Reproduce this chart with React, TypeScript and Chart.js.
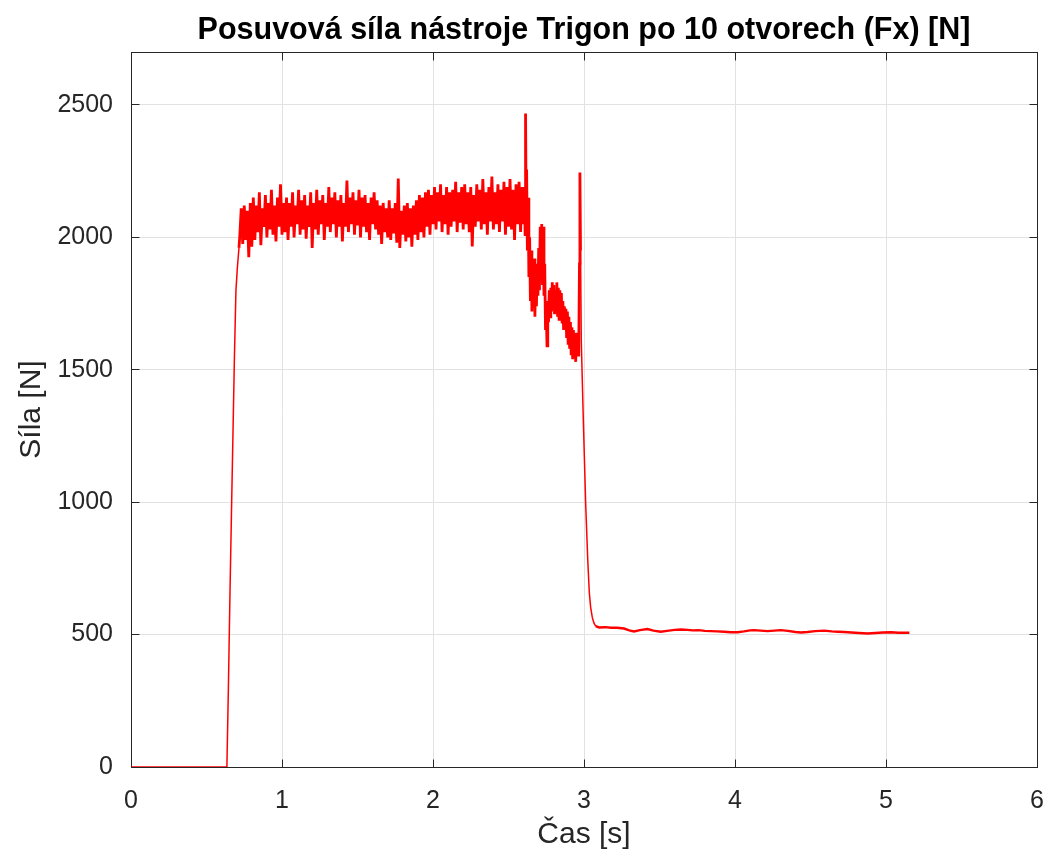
import React, { useEffect, useRef } from "react";
import { Chart, registerables } from "chart.js";

Chart.register(...registerables);

const titleText = "Posuvová síla nástroje Trigon po 10 otvorech (Fx) [N]";
const xAxisLabel = "Čas [s]";
const yAxisLabel = "Síla [N]";
const xTickValues = [0, 1, 2, 3, 4, 5, 6];
const yTickValues = [0, 500, 1000, 1500, 2000, 2500];
const xMin = 0;
const xMax = 6;
const yMin = 0;
const yMax = 2700;

// idle + rise
const riseTime = [0, 0.2, 0.4, 0.635, 0.645, 0.655, 0.665, 0.675, 0.685, 0.695, 0.705, 0.715];
const riseForce = [0, 0, 0, 0, 300, 640, 950, 1250, 1550, 1800, 1890, 1960];

// noisy cutting plateau
const plateauTime = [
  0.72, 0.73, 0.74, 0.75, 0.76, 0.77, 0.78, 0.79, 0.8, 0.81,
  0.82, 0.83, 0.84, 0.85, 0.86, 0.87, 0.88, 0.89, 0.9, 0.91,
  0.92, 0.93, 0.94, 0.95, 0.96, 0.97, 0.98, 0.99, 1.0, 1.01,
  1.02, 1.03, 1.04, 1.05, 1.06, 1.07, 1.08, 1.09, 1.1, 1.11,
  1.12, 1.13, 1.14, 1.15, 1.16, 1.17, 1.18, 1.19, 1.2, 1.21,
  1.22, 1.23, 1.24, 1.25, 1.26, 1.27, 1.28, 1.29, 1.3, 1.31,
  1.32, 1.33, 1.34, 1.35, 1.36, 1.37, 1.38, 1.39, 1.4, 1.41,
  1.42, 1.43, 1.44, 1.45, 1.46, 1.47, 1.48, 1.49, 1.5, 1.51,
  1.52, 1.53, 1.54, 1.55, 1.56, 1.57, 1.58, 1.59, 1.6, 1.61,
  1.62, 1.63, 1.64, 1.65, 1.66, 1.67, 1.68, 1.69, 1.7, 1.71,
  1.72, 1.73, 1.74, 1.75, 1.76, 1.77, 1.78, 1.79, 1.8, 1.81,
  1.82, 1.83, 1.84, 1.85, 1.86, 1.87, 1.88, 1.89, 1.9, 1.91,
  1.92, 1.93, 1.94, 1.95, 1.96, 1.97, 1.98, 1.99, 2.0, 2.01,
  2.02, 2.03, 2.04, 2.05, 2.06, 2.07, 2.08, 2.09, 2.1, 2.11,
  2.12, 2.13, 2.14, 2.15, 2.16, 2.17, 2.18, 2.19, 2.2, 2.21,
  2.22, 2.23, 2.24, 2.25, 2.26, 2.27, 2.28, 2.29, 2.3, 2.31,
  2.32, 2.33, 2.34, 2.35, 2.36, 2.37, 2.38, 2.39, 2.4, 2.41,
  2.42, 2.43, 2.44, 2.45, 2.46, 2.47, 2.48, 2.49, 2.5, 2.51,
  2.52, 2.53, 2.54, 2.55, 2.56, 2.57, 2.58, 2.59,
];
const plateauForce = [
  2000, 2110, 1975, 2120, 1990, 2100, 1925, 2130, 1965, 2150,
  1990, 2120, 2020, 2170, 1970, 2110, 2040, 2160, 2000, 2130,
  2030, 2180, 2010, 2120, 1985, 2150, 2040, 2200, 2010, 2130,
  2020, 2150, 1990, 2130, 2040, 2170, 2000, 2120, 2050, 2180,
  2010, 2140, 2030, 2160, 1995, 2120, 2040, 2170, 1960, 2130,
  2030, 2180, 2010, 2140, 2050, 2160, 1990, 2130, 2040, 2190,
  2020, 2150, 2050, 2170, 2000, 2140, 2040, 2160, 1985, 2130,
  2040, 2215, 2020, 2150, 2050, 2170, 2010, 2140, 2045, 2180,
  2000, 2150, 2040, 2160, 2020, 2130, 1990, 2150, 2050, 2170,
  2030, 2140, 2010, 2120, 1975, 2130, 2020, 2110, 2000, 2140,
  1990, 2110, 2015, 2130, 1980, 2222, 1960, 2100, 2010, 2120,
  1985, 2130, 2000, 2110, 1965, 2120, 2010, 2140, 1990, 2160,
  2020, 2150, 2000, 2170, 2040, 2180, 2010, 2160, 2050, 2190,
  2030, 2170, 2060, 2200, 2020, 2160, 2050, 2190, 2010, 2170,
  2040, 2180, 2060, 2210, 2020, 2170, 2055, 2190, 2030, 2200,
  2050, 2170, 2020, 2190, 1966, 2160, 2040, 2200, 2060, 2180,
  2030, 2220, 2050, 2170, 2010, 2190, 2060, 2230, 2030, 2170,
  2050, 2200, 2020, 2180, 2060, 2210, 2010, 2190, 2040, 2220,
  2030, 2180, 1990, 2200, 2050, 2210, 2020, 2190,
];

// breakthrough region with spikes
const breakTime = [
  2.6, 2.605, 2.61, 2.613, 2.617, 2.62, 2.625, 2.63, 2.635, 2.64,
  2.645, 2.65, 2.655, 2.66, 2.665, 2.67, 2.675, 2.68, 2.685, 2.69,
  2.695, 2.7, 2.705, 2.71, 2.715, 2.72, 2.725, 2.73, 2.735, 2.74,
  2.745, 2.75, 2.755, 2.76, 2.765, 2.77, 2.775, 2.78, 2.785, 2.79,
  2.795, 2.8, 2.805, 2.81, 2.815, 2.82, 2.825, 2.83, 2.835, 2.84,
  2.845, 2.85, 2.855, 2.86, 2.865, 2.87, 2.875, 2.88, 2.885, 2.89,
  2.895, 2.9, 2.905, 2.91, 2.915, 2.92, 2.925, 2.93, 2.935, 2.94,
  2.945, 2.95, 2.955, 2.96, 2.965, 2.97, 2.973, 2.977,
];
const breakForce = [
  2050, 2190, 2010, 2468, 2100, 2256, 1950, 2150, 1850, 2000,
  1760, 1950, 1720, 1900, 1780, 1920, 1700, 1880, 1740, 1900,
  1780, 1960, 1800, 2040, 1850, 2050, 1820, 2040, 1780, 1900,
  1650, 1720, 1590, 1760, 1680, 1800, 1700, 1810, 1720, 1830,
  1740, 1820, 1710, 1800, 1720, 1830, 1700, 1810, 1690, 1800,
  1700, 1790, 1680, 1760, 1650, 1740, 1660, 1730, 1620, 1720,
  1600, 1700, 1580, 1680, 1560, 1660, 1540, 1650, 1570, 1620,
  1530, 1640, 1560, 1610, 1550, 1900, 2245, 1950,
];

// drop after the tool exits
const fallTime = [2.982, 2.996, 3.011, 3.025, 3.035, 3.044, 3.055, 3.065, 3.077];
const fallForce = [1608, 1300, 994, 780, 660, 603, 565, 545, 532];

// steady tail
const tailTime = [
  3.1, 3.14, 3.18, 3.22, 3.265, 3.3, 3.331, 3.37, 3.42, 3.46,
  3.508, 3.55, 3.6, 3.645, 3.685, 3.72, 3.76, 3.8, 3.84, 3.88,
  3.93, 3.97, 4.017, 4.06, 4.1, 4.127, 4.17, 4.215, 4.26, 4.304,
  4.35, 4.4, 4.436, 4.48, 4.53, 4.591, 4.64, 4.68, 4.724, 4.77,
  4.82, 4.879, 4.93, 4.98, 5.033, 5.08, 5.12, 5.155,
];
const tailForce = [
  527, 528, 526, 526, 523, 516, 512, 517, 521, 515,
  511, 514, 518, 519, 518, 516, 517, 514, 513, 512,
  511, 509, 509, 512, 516, 517, 515, 513, 515, 517,
  514, 510, 508, 510, 513, 515, 512, 511, 510, 508,
  506, 504, 506, 508, 509, 507, 507, 507,
];

const FONT = "'Liberation Sans', Arial, Helvetica, sans-serif";
const AXIS_COLOR = "#262626";

function alignPx(p: number) {
  return Math.round(p - 0.5) + 0.5;
}

const matlabBox = {
  id: "matlabBox",
  beforeDatasetsDraw(chart: any) {
    const { ctx, chartArea, scales } = chart;
    const L = alignPx(chartArea.left);
    const R = alignPx(chartArea.right);
    const T = alignPx(chartArea.top);
    const B = alignPx(chartArea.bottom);
    const tl = 8;
    ctx.save();
    ctx.strokeStyle = AXIS_COLOR;
    ctx.lineWidth = 1;
    ctx.beginPath();
    xTickValues.forEach((v) => {
      const px = alignPx(scales.x.getPixelForValue(v));
      ctx.moveTo(px, B);
      ctx.lineTo(px, B - tl);
      ctx.moveTo(px, T);
      ctx.lineTo(px, T + tl);
    });
    yTickValues.forEach((v) => {
      const py = alignPx(scales.y.getPixelForValue(v));
      ctx.moveTo(L, py);
      ctx.lineTo(L + tl, py);
      ctx.moveTo(R, py);
      ctx.lineTo(R - tl, py);
    });
    ctx.stroke();
    ctx.strokeRect(L, T, R - L, B - T);
    ctx.restore();
  },
};

function buildPoints() {
  const t = [...riseTime, ...plateauTime, ...breakTime, ...fallTime, ...tailTime];
  const f = [...riseForce, ...plateauForce, ...breakForce, ...fallForce, ...tailForce];
  return t.map((x, i) => ({ x, y: f[i] }));
}

export default function App() {
  const ref = useRef<HTMLCanvasElement | null>(null);

  useEffect(() => {
    if (!ref.current) return;
    const chart = new Chart(ref.current, {
      type: "line",
      data: {
        datasets: [
          {
            data: buildPoints(),
            borderColor: "#ff0000",
            borderWidth: 1.5,
            pointRadius: 0,
            tension: 0,
            fill: false,
            segment: {
              borderWidth: (c: any) =>
                c.p0.parsed.x >= 0.715 && c.p1.parsed.x <= 2.98 ? 2.8 : c.p0.parsed.x >= 3.07 ? 2.4 : 1.5,
            },
          },
        ],
      },
      options: {
        animation: false,
        responsive: false,
        devicePixelRatio: 1,
        layout: { padding: { left: 0, right: 11, top: 0, bottom: 0 } },
        plugins: {
          legend: { display: false },
          tooltip: { enabled: false },
          title: {
            display: true,
            text: titleText,
            fullSize: false,
            color: "#000000",
            font: { family: FONT, size: 30.5, weight: "bold", lineHeight: 1.2 },
            padding: { top: 12, bottom: 3.4 },
          },
        },
        scales: {
          x: {
            type: "linear",
            min: xMin,
            max: xMax,
            afterBuildTicks: (s: any) => {
              s.ticks = xTickValues.map((v) => ({ value: v }));
            },
            afterFit: (s: any) => {
              s.height = 92;
              s.paddingLeft = 0;
              s.paddingRight = 0;
            },
            grid: { color: "#e2e2e2", drawTicks: false },
            border: { display: false },
            ticks: {
              padding: 19.5,
              color: AXIS_COLOR,
              font: { family: FONT, size: 25 },
              callback: (v: any) => String(v),
            },
            title: {
              display: true,
              text: xAxisLabel,
              color: AXIS_COLOR,
              font: { family: FONT, size: 30 },
              padding: { top: 0, bottom: 6.3 },
            },
          },
          y: {
            type: "linear",
            min: yMin,
            max: yMax,
            afterBuildTicks: (s: any) => {
              s.ticks = yTickValues.map((v) => ({ value: v }));
            },
            afterFit: (s: any) => {
              s.width = 131;
              s.paddingTop = 0;
              s.paddingBottom = 0;
            },
            grid: { color: "#e2e2e2", drawTicks: false },
            border: { display: false },
            ticks: {
              padding: 18,
              color: AXIS_COLOR,
              font: { family: FONT, size: 25 },
              callback: (v: any) => String(v),
            },
            title: {
              display: true,
              text: yAxisLabel,
              color: AXIS_COLOR,
              font: { family: FONT, size: 30 },
              padding: { top: 13.5, bottom: 0 },
            },
          },
        },
      },
      plugins: [matlabBox],
    } as any);
    return () => chart.destroy();
  }, []);

  return (
    <div style={{ position: "fixed", left: 0, top: 0, width: 1048, height: 859, background: "#fff" }}>
      <canvas ref={ref} width={1048} height={859} style={{ display: "block" }} />
    </div>
  );
}
